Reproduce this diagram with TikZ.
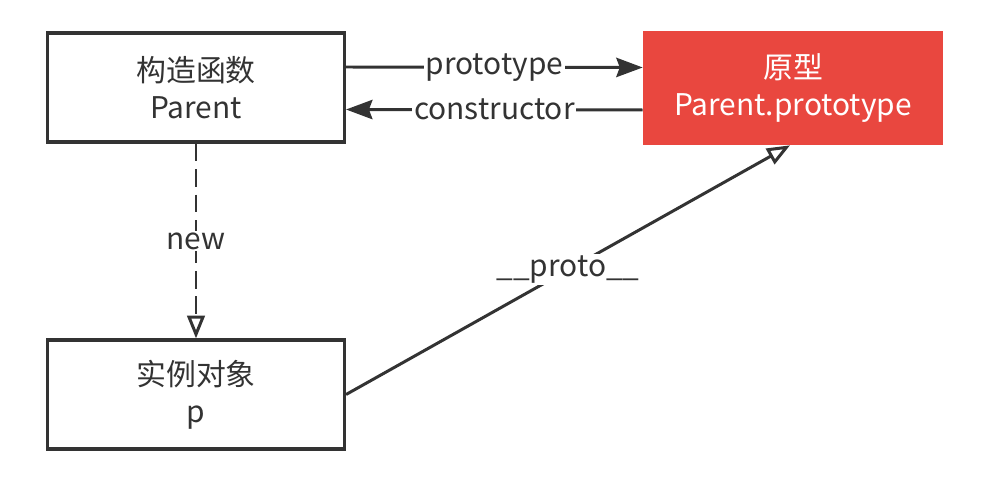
\documentclass[tikz,border=0pt]{standalone}
\usepackage{fontspec}
\setmainfont{Noto Sans CJK SC}
\usetikzlibrary{arrows.meta}
\definecolor{protored}{HTML}{E9473F}
\definecolor{ink}{HTML}{333333}
\begin{document}
\begin{tikzpicture}[
	box/.style={draw=ink, line width=1.8pt, minimum width=5.94cm, minimum height=2.18cm, align=center, font=\fontsize{17}{21}\selectfont, text=ink},
	redbox/.style={fill=protored, minimum width=6cm, minimum height=2.28cm, align=center, font=\fontsize{17}{21}\selectfont, text=white},
	conn/.style={draw=ink, line width=1.7pt},
	lbl/.style={fill=white, inner sep=1pt, font=\fontsize{17}{21}\selectfont, text=ink}
]
	\useasboundingbox (0, 0) rectangle (20.02, -9.68);
	%\draw[help lines] (0,0) grid (20,-10);
	
	\node [box] (parent) at (3.92, -1.75) {构造函数\\Parent};			% Konstruktor
	\node [redbox] (proto) at (15.86, -1.76) {原型\\Parent.prototype};	% Prototyp
	\node [box] (inst) at (3.92, -7.89) {实例对象\\p};					% Instanz
	
	\draw [conn, -{Stealth[length=15pt, width=11pt, inset=2pt]}] ([yshift=0.41cm]parent.east) -- node [lbl] (lprototype) {prototype} ([yshift=0.41cm]proto.west);
	\draw [conn, -{Stealth[length=15pt, width=11pt, inset=2pt]}] ([yshift=-0.44cm]proto.west) -- node [lbl] (lconstructor) {constructor} ([yshift=-0.44cm]parent.east);
	\draw [conn, dash pattern=on 10pt off 4.5pt, -{Triangle[open, fill=white, length=13pt, width=10pt]}] (parent.south) -- node [lbl] (lnew) {new} (inst.north);
	\draw [conn, -{Triangle[open, fill=white, length=13pt, width=10pt]}] (inst.east) -- node [lbl] (lproto) {\_\_proto\_\_} ([xshift=-0.06cm]proto.south);
\end{tikzpicture}
\end{document}
